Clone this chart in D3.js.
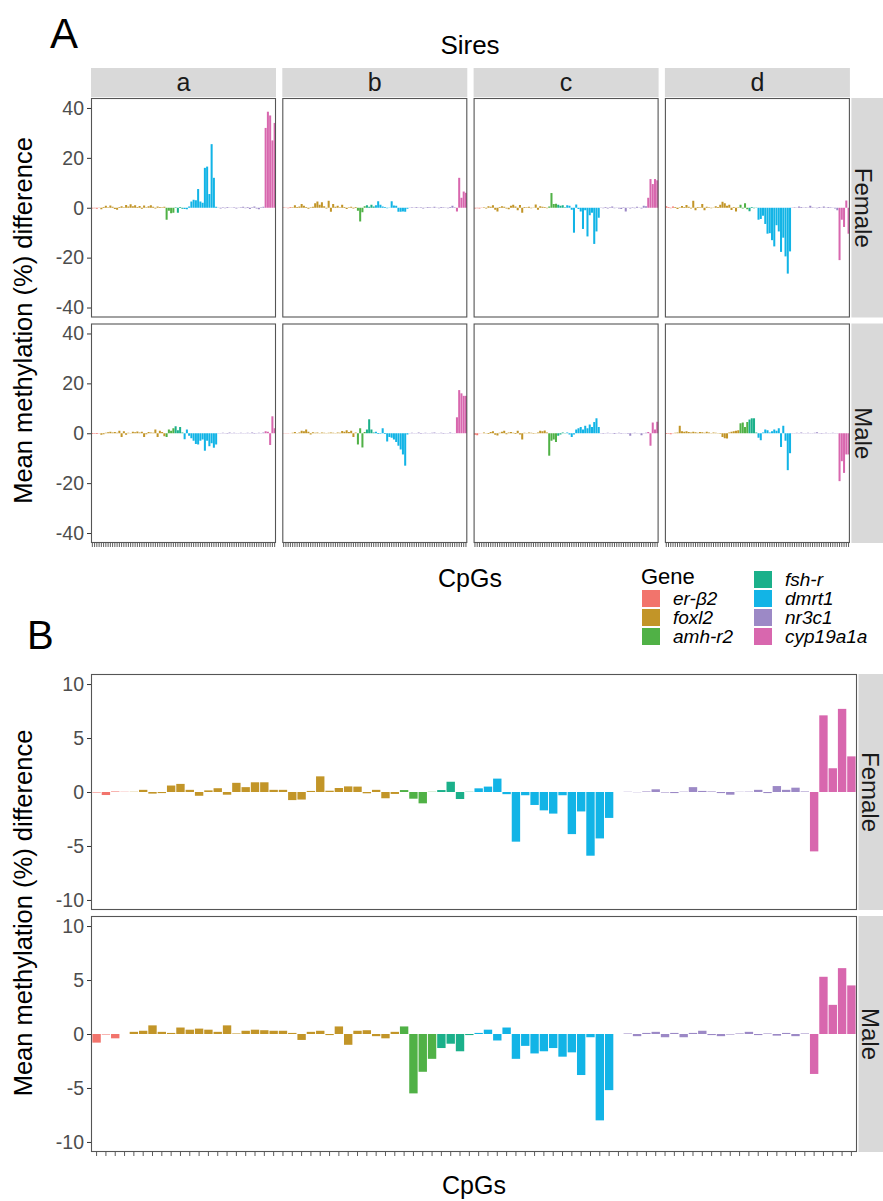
<!DOCTYPE html>
<html>
<head>
<meta charset="utf-8">
<script src="https://cdn.jsdelivr.net/npm/d3@7"></script>
<style>
  body { margin: 0; background: #fff; }
  svg { display: block; font-family: "Liberation Sans", Arial, sans-serif; }
</style>
</head>
<body>
<svg id="fig" width="883" height="1201"></svg>
<script>
// ---- Genes and CpG layout (CpGs ordered by gene along the x axis) ----
const genes = ["er-β2", "foxl2", "amh-r2", "fsh-r", "dmrt1", "nr3c1", "cyp19a1a"];
const geneColors = ["#F2746C", "#C29528", "#50B146", "#1BB08A", "#12B4E6", "#9C89C6", "#D867AE"];
const cpgsPerGene = [4, 29, 4, 4, 15, 21, 5];
const sires = ["a", "b", "c", "d"];
const sexes = ["Female", "Male"];
const yTicksA = [-40, -20, 0, 20, 40];
const yTicksB = [-10, -5, 0, 5, 10];

// ---- Panel A: mean methylation difference (%) per CpG, by sire and offspring sex ----
const sireA_female = [
  -0.3, -0.2, -0.4, 0.1,
  -0.6, 0.3, 0.8, 0.2, 0.9, 0.4, -0.5, -0.8, 0.3, 0.6, 0.2, 1.1, 0.5, 1.4, 0.6, 1.0, 0.3, 0.7, -0.4, 0.9, 0.2, 0.6, 1.0, 0.4, -0.3, 0.5, 0.3, 0.2, 0.4,
  -4.8, -1.2, -2.2, -2.0,
  0.2, -2.0, 0.3, -0.4,
  -0.5, -0.6, 0.5, 2.5, 3.2, 3.0, 7.5, 2.5, 2.0, 16.0, 16.5, 5.5, 25.5, 12.0, 0.4,
  0.1, -0.3, 0.2, -0.2, 0.3, 0.1, -0.1, 0.2, -0.3, 0.1, 0.2, 0.4, -0.2, 0.3, -0.5, 0.2, 0.5, -0.3, -0.6, 0.2, 0.4,
  32, 38.5, 37, 27, 34
];
const sireB_female = [
  0.2, 0.1, -0.2, 0.3,
  0.2, 1.0, 0.3, 0.5, 1.5, 0.8, 0.3, -0.4, 0.2, 0.4, 1.8, 2.5, 1.2, 2.2, 0.6, -0.3, 2.8, -1.6, 1.5, 0.4, 0.8, 0.2, 1.2, 0.3, -0.5, 0.2, 0.4, -0.3, 0.3,
  -1.2, -5.5, -1.8, 0.6,
  1.0, 0.4, 1.2, 0.5,
  1.0, 2.6, 1.2, 0.5, 0.3, -0.2, 0.1, 2.6, 0.9, 0.8, -1.6, -1.6, -1.5, -1.6, -0.4,
  0.1, 0.2, -0.1, 0.3, 0.1, 0.2, -0.3, 0.1, 0.3, 0.2, -0.1, 0.4, 0.1, -0.2, 0.3, 0.2, 0.1, -0.2, 0.3, 0.8, 0.2,
  -1.5, 12, 4, 6.5, 6
];
const sireC_female = [
  -0.3, -0.2, -0.3, 0.1,
  0.2, -0.3, 0.6, 0.4, 1.0, -0.8, -1.5, 0.3, 0.6, 0.4, -0.3, -0.6, 0.8, 1.2, 0.5, -1.0, 1.1, -2.0, 0.3, 0.2, 0.4, -0.2, 0.1, 1.3, -0.8, 0.6, 0.4, 0.3, -0.2,
  0.5, 5.9, 1.5, 1.6,
  1.2, 0.8, 1.0, 0.2,
  1.0, 0.8, -0.8, -10.0, 1.3, -0.5, -1.5, -8.5, -1.0, -11.5, -3.0, -2.0, -14.5, -9.5, -4.0,
  0.1, -0.2, 0.3, -0.3, 0.2, 0.5, -0.2, 0.1, -0.3, -0.5, 0.2, -1.5, 0.1, -0.3, 0.2, -0.2, 0.4, 0.1, -0.3, 0.8, 0.6,
  4, 11.5, 9.5, 11.5, 11
];
const sireD_female = [
  0.6, 0.3, -0.2, 0.5,
  0.3, -0.5, 0.2, 0.7, 0.3, 1.1, 0.4, -0.3, 2.8, -1.0, 0.3, 0.2, 1.5, -1.0, 0.4, 0.2, -0.2, 0.1, 0.6, 0.3, 1.2, 2.4, 1.8, 0.8, 1.2, -0.9, 0.3, -1.5, 0.2,
  1.2, -0.3, 1.8, -0.6,
  -1.4, 0.3, -0.2, 0.1,
  -4.8, -4.5, -3.2, -6.5, -10.4, -10.2, -13.0, -15.5, -7.0, -9.5, -17.7, -12.0, -19.5, -26.4, -17.5,
  0.1, 0.2, -0.1, 0.5, 0.3, 0.1, 0.2, -0.1, 0.8, 0.2, 0.1, -0.2, 0.3, 0.1, 0.5, 0.1, 0.3, 0.2, 0.1, -0.3, -1.0,
  -21, -4.8, -7.7, 2.9, -10.4
];
const sireA_male = [
  -0.3, -0.2, -0.3, 0.1,
  -0.6, -0.4, 0.2, 0.4, 0.6, 0.3, 0.5, 0.2, 1.0, -1.5, 0.8, -0.6, 0.2, 0.1, 0.6, 0.4, 0.7, 0.3, 0.6, -1.5, -0.4, 0.5, 0.3, 0.2, 1.5, -1.5, 1.0, 0.5, -1.2,
  -1.5, 1.5, 1.0, 2.0,
  2.8, 1.2, 2.5, 0.3,
  -2.4, 1.5, -1.0, -2.0, -3.0, -4.3, -4.5, -3.0, -2.5, -7.0, -3.0, -5.2, -4.0, -5.8, -4.5,
  0.1, -0.1, 0.2, 0.1, -0.2, 0.3, 0.1, 0.2, -0.1, 0.1, 0.2, 0.1, -0.1, 0.2, 0.1, 0.3, -0.2, 0.1, 0.2, 0.1, 0.3,
  0.8, 0.6, -4.7, 6.8, 2.0
];
const sireB_male = [
  0.1, -0.1, 0.1, 0.05,
  0.2, 0.5, 0.1, 0.3, 1.0, 0.8, 1.5, 0.6, -0.5, 0.4, 0.2, 0.3, 0.1, 0.3, 0.2, 0.1, 0.2, 0.3, 0.2, 0.1, 0.3, 0.2, 0.9, 0.6, 1.2, 0.5, 1.0, -1.5, 0.3,
  -4.5, 2.0, -5.7, 0.5,
  1.5, 5.6, 1.5, 0.3,
  0.6, -0.3, -0.2, 2.0, -0.3, -3.3, -1.5, -1.8, -2.5, -3.5, -5.0, -6.5, -8.5, -13.0, -0.5,
  0.1, 0.2, -0.1, 0.1, 0.3, -0.2, 0.1, 0.2, 0.1, -0.1, 0.2, 0.3, -0.1, 0.1, 0.2, -0.2, 0.1, 0.1, 0.3, -0.1, 0.1,
  6.4, 17.3, 16, 15, 15
];
const sireC_male = [
  -0.6, -0.8, 0.1, 0.05,
  0.3, 0.1, -0.3, 0.5, 0.8, -0.6, -0.9, 0.2, 0.6, 1.0, -0.4, 0.3, 0.5, 0.2, -0.3, 1.0, -0.5, -2.5, 0.2, 0.1, 0.3, 0.2, -0.2, 0.1, 0.3, 1.0, 0.8, 1.1, 0.3,
  -9.0, -3.0, -2.5, -3.5,
  -1.0, -0.5, 0.3, 0.1,
  0.3, -0.5, -1.5, -0.5, 1.5, 2.0, 2.5, 1.5, 3.0, 2.0, 3.5, 2.5, 4.5, 6.0, 2.5,
  0.1, -0.2, 0.1, 0.2, -0.1, 0.1, -0.3, 0.1, 0.2, -0.2, 0.1, 0.1, -0.2, -1.0, 0.1, 0.2, -0.1, 0.1, -0.8, 0.1, 0.2,
  0.5, -5.0, 4.3, 1.5, 4.6
];
const sireD_male = [
  -0.3, -0.2, -0.4, 0.1,
  0.2, 0.3, 3.0, 0.8, 0.6, 0.8, 0.5, 0.3, 0.6, 0.4, 0.2, 0.5, 0.4, 0.2, 0.6, 0.3, 0.1, 0.3, 0.2, 0.1, -0.2, -1.5, -2.0, -2.1, 0.3, 0.6, 0.8, 1.0, 1.2,
  4.0, 4.3, 2.5, 4.5,
  5.5, 6.0, 6.0, 0.3,
  -1.8, -2.8, 0.3, 1.5, 1.2, 0.3, 0.8, 1.5, 1.0, 2.0, -5.5, 3.0, -3.0, -14.8, -8.0,
  0.1, -0.1, 0.2, 0.1, 0.3, -0.1, 0.1, 0.2, 0.1, -0.1, 0.2, 0.4, 0.1, -0.2, 0.1, 0.2, -0.1, 0.1, 0.2, 0.1, -0.1,
  -19.2, -11.2, -15.9, -8.5, -8.5
];

// ---- Panel B: mean methylation difference (%) per CpG, all sires pooled ----
const pooled_female = [
  -0.05, -0.28, 0.05, 0.02,
  0.02, 0.2, -0.15, -0.1, 0.6, 0.75, 0.2, -0.35, 0.15, 0.35, -0.25, 0.85, 0.45, 0.9, 0.9, 0.2, 0.2, -0.75, -0.7, 0.1, 1.45, 0.12, 0.37, 0.52, 0.5, -0.12, 0.2, -0.58, -0.18,
  0.18, -0.62, -1.05, 0.02,
  0.18, 0.95, -0.65, 0.02,
  0.34, 0.5, 1.24, -0.2, -4.6, -0.3, -1.2, -1.7, -2.0, -0.3, -3.9, -1.8, -5.9, -4.3, -2.4,
  0.0, 0.02, -0.02, 0.05, 0.25, -0.05, -0.1, 0.03, 0.45, 0.1, 0.05, -0.1, -0.25, 0.02, 0.03, 0.2, -0.1, 0.55, 0.2, 0.4, 0.05,
  -5.5, 7.1, 2.2, 7.7, 3.3
];
const pooled_male = [
  -0.8, -0.05, -0.4, 0.0,
  0.2, 0.3, 0.8, 0.2, 0.1, 0.6, 0.4, 0.5, 0.4, 0.2, 0.8, 0.05, 0.3, 0.4, 0.35, 0.3, 0.3, 0.1, -0.55, 0.2, 0.3, -0.1, 0.7, -1.0, 0.3, 0.35, -0.2, -0.4, 0.2,
  0.7, -5.5, -3.5, -2.3,
  -1.3, -0.9, -1.6, -0.1,
  0.1, 0.4, -0.6, 0.6, -2.3, -1.1, -1.8, -1.6, -1.3, -2.1, -1.7, -3.8, -0.3, -8.0, -5.2,
  0.0, 0.05, -0.2, 0.1, 0.2, -0.3, 0.1, -0.3, 0.1, 0.3, -0.1, -0.2, -0.05, 0.05, 0.2, -0.1, 0.05, -0.15, 0.1, -0.2, 0.05,
  -3.7, 5.3, 2.7, 6.1, 4.5
];

const panelA = {
  Female: [sireA_female, sireB_female, sireC_female, sireD_female],
  Male:   [sireA_male, sireB_male, sireC_male, sireD_male]
};
const panelB = { Female: pooled_female, Male: pooled_male };

// ---- Derived CpG list ----
const cpgs = [];
genes.forEach((g, gi) => {
  for (let k = 0; k < cpgsPerGene[gi]; k++) cpgs.push({ gene: g, id: g + "_" + (k + 1) });
});
const color = d3.scaleOrdinal(genes, geneColors);

const svg = d3.select("#fig");
const STRIP = "#D9D9D9";
const BORDER = "#555555";
const TICKTXT = "#4D4D4D";

function facet(x0, y0, w, h, values, yDomain, yTicks, opts) {
  const g = svg.append("g");
  const x = d3.scaleBand(cpgs.map(c => c.id), [x0, x0 + w])
    .paddingInner(0.1).paddingOuter(0.15);
  const y = d3.scaleLinear(yDomain, [y0 + h, y0]);

  g.append("rect").attr("x", x0).attr("y", y0).attr("width", w).attr("height", h)
    .attr("fill", "#fff");

  g.append("g").selectAll("rect")
    .data(cpgs.map((c, i) => ({ ...c, v: values[i] })))
    .join("rect")
    .attr("x", d => x(d.id))
    .attr("width", x.bandwidth())
    .attr("y", d => y(Math.max(0, d.v)))
    .attr("height", d => Math.abs(y(d.v) - y(0)))
    .attr("fill", d => color(d.gene));

  g.append("rect").attr("x", x0 + 0.5).attr("y", y0 + 0.5)
    .attr("width", w - 1).attr("height", h - 1)
    .attr("fill", "none").attr("stroke", BORDER).attr("stroke-width", 1.1);

  if (opts.yAxis) {
    const ax = g.append("g").attr("transform", `translate(${x0},0)`)
      .call(d3.axisLeft(y).tickValues(yTicks).tickSize(4).tickPadding(3)
        .tickFormat(d => String(d)));
    ax.select(".domain").remove();
    ax.selectAll("line").attr("stroke", "#333");
    ax.selectAll("text").attr("fill", TICKTXT).attr("font-size", 19.5)
      .attr("font-family", "Liberation Sans, Arial, sans-serif");
  }
  if (opts.xAxis) {
    const ax = g.append("g").attr("transform", `translate(0,${y0 + h})`)
      .call(d3.axisBottom(x).tickSize(4).tickFormat(""));
    ax.select(".domain").remove();
    ax.selectAll("line").attr("stroke", "#333").attr("stroke-width", 0.8);
  }
}

function hStrip(x, y, w, h, label, size) {
  svg.append("rect").attr("x", x).attr("y", y).attr("width", w).attr("height", h).attr("fill", STRIP);
  svg.append("text").attr("x", x + w / 2).attr("y", y + h / 2).attr("dy", "0.35em")
    .attr("text-anchor", "middle").attr("font-size", size).attr("fill", "#1A1A1A").text(label);
}
function vStrip(x, y, w, h, label, size) {
  svg.append("rect").attr("x", x).attr("y", y).attr("width", w).attr("height", h).attr("fill", STRIP);
  svg.append("text").attr("transform", `translate(${x + 12},${y + h / 2}) rotate(90)`)
    .attr("dy", "0.35em").attr("text-anchor", "middle").attr("font-size", size)
    .attr("fill", "#1A1A1A").text(label);
}

// ---- Panel A layout ----
const A = { left: 91, top: 98, w: 185, gap: 6.3, h: 219.5, rowGap: 6, stripTop: 68, stripH: 29 };
const yDomA = [-44, 44];

svg.append("text").attr("x", 50).attr("y", 48).attr("font-size", 42).attr("fill", "#000").text("A");
svg.append("text").attr("x", 470).attr("y", 54).attr("text-anchor", "middle")
  .attr("font-size", 26).attr("fill", "#000").text("Sires");

sires.forEach((s, ci) => {
  const x0 = A.left + ci * (A.w + A.gap);
  hStrip(x0, A.stripTop, A.w, A.stripH, s, 25);
  sexes.forEach((sex, ri) => {
    const y0 = A.top + ri * (A.h + A.rowGap);
    facet(x0, y0, A.w, A.h, panelA[sex][ci], yDomA, yTicksA,
      { yAxis: ci === 0, xAxis: ri === 1 });
  });
});
const aRight = A.left + 4 * A.w + 3 * A.gap;
sexes.forEach((sex, ri) => {
  vStrip(aRight + 1.5, A.top + ri * (A.h + A.rowGap), 883 - aRight - 1.5, A.h, sex, 24);
});

svg.append("text").attr("transform", `translate(32,${A.top + A.h + A.rowGap / 2}) rotate(-90)`)
  .attr("text-anchor", "middle").attr("font-size", 25.5).attr("fill", "#000")
  .text("Mean methylation (%) difference");
svg.append("text").attr("x", 470).attr("y", 587).attr("text-anchor", "middle")
  .attr("font-size", 25).attr("fill", "#000").text("CpGs");

// ---- Legend ----
const leg = svg.append("g");
leg.append("text").attr("x", 641).attr("y", 584).attr("font-size", 22).attr("fill", "#000").text("Gene");
const legendSlots = [
  [642, 590], [642, 609], [642, 628],
  [754, 571], [754, 590], [754, 609], [754, 628]
];
genes.forEach((g, i) => {
  const [lx, ly] = legendSlots[i];
  leg.append("rect").attr("x", lx).attr("y", ly).attr("width", 18).attr("height", 17)
    .attr("fill", color(g));
  leg.append("text").attr("x", lx + 31).attr("y", ly + 14.5).attr("font-size", 19)
    .attr("font-style", "italic").attr("fill", "#000").text(g);
});

// ---- Panel B layout ----
const B = { left: 91, top: 674, w: 766, h: 236, rowGap: 6 };
const yDomB = [-10.93, 10.93];

svg.append("text").attr("x", 27).attr("y", 649).attr("font-size", 40).attr("fill", "#000").text("B");
sexes.forEach((sex, ri) => {
  const y0 = B.top + ri * (B.h + B.rowGap);
  facet(B.left, y0, B.w, B.h, panelB[sex], yDomB, yTicksB, { yAxis: true, xAxis: ri === 1 });
  vStrip(B.left + B.w + 1.5, y0, 883 - B.left - B.w - 1.5, B.h, sex, 24);
});
svg.append("text").attr("transform", `translate(32,${B.top + B.h + B.rowGap / 2}) rotate(-90)`)
  .attr("text-anchor", "middle").attr("font-size", 25.5).attr("fill", "#000")
  .text("Mean methylation (%) difference");
svg.append("text").attr("x", 474).attr("y", 1194).attr("text-anchor", "middle")
  .attr("font-size", 25).attr("fill", "#000").text("CpGs");
</script>
</body>
</html>
